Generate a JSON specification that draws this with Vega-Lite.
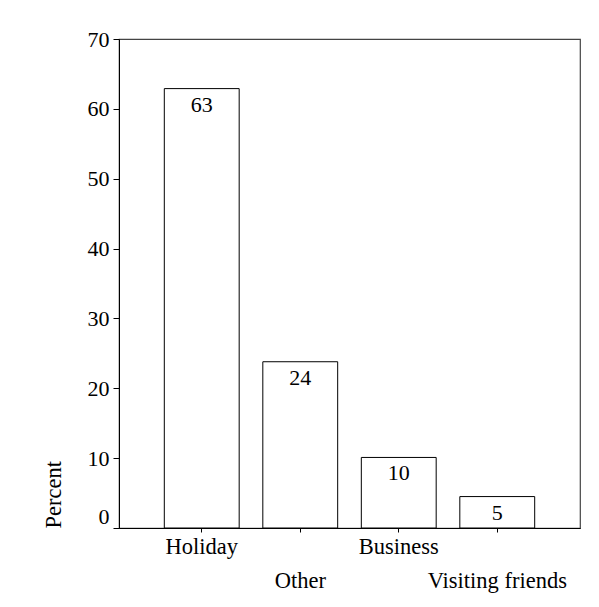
{
  "$schema": "https://vega.github.io/schema/vega-lite/v6.json",
  "autosize": "none",
  "width": 461,
  "height": 489,
  "padding": {"left": 119, "top": 39, "right": 19, "bottom": 79},
  "background": "white",
  "config": {
    "font": "Liberation Serif",
    "view": {"stroke": "#444", "strokeWidth": 1.2},
    "axis": {
      "labelFont": "Liberation Serif",
      "titleFont": "Liberation Serif",
      "labelFontSize": 22.5,
      "titleFontSize": 22.5,
      "titleFontWeight": "normal",
      "labelColor": "black",
      "titleColor": "black",
      "domainColor": "black",
      "tickColor": "black",
      "grid": false
    }
  },
  "data": {
    "values": [
      {"purpose": "Holiday", "percent": 62.9, "label": "63"},
      {"purpose": "Other", "percent": 23.8, "label": "24"},
      {"purpose": "Business", "percent": 10.1, "label": "10"},
      {"purpose": "Visiting friends", "percent": 4.5, "label": "5"}
    ]
  },
  "encoding": {
    "x": {
      "field": "purpose",
      "type": "nominal",
      "sort": null,
      "scale": {"paddingInner": 0.24, "paddingOuter": 0.46},
      "axis": {
        "title": null,
        "labelAngle": 0,
        "tickSize": 4,
        "labelPadding": 3,
        "labelBaseline": "top",
        "labelLineHeight": 34,
        "labelExpr": "indexof(['Other','Visiting friends'], datum.value) >= 0 ? ['', datum.label] : datum.label"
      }
    },
    "y": {
      "field": "percent",
      "type": "quantitative",
      "scale": {"domain": [0, 70], "nice": false},
      "axis": {
        "title": "Percent",
        "values": [0, 10, 20, 30, 40, 50, 60, 70],
        "tickSize": 6,
        "labelPadding": 4,
        "labelFontSize": 22,
        "labelBaseline": {"condition": {"test": "datum.value == 0", "value": "bottom"}, "value": "middle"},
        "titleAngle": -90,
        "titleAlign": "left",
        "titleBaseline": "middle",
        "titleX": -66,
        "titleY": 489
      }
    }
  },
  "layer": [
    {
      "mark": {"type": "bar", "fill": "white", "stroke": "black", "strokeWidth": 1}
    },
    {
      "mark": {"type": "text", "baseline": "top", "dy": 6, "fontSize": 22, "font": "Liberation Serif", "color": "black"},
      "encoding": {"text": {"field": "label"}}
    }
  ]
}
